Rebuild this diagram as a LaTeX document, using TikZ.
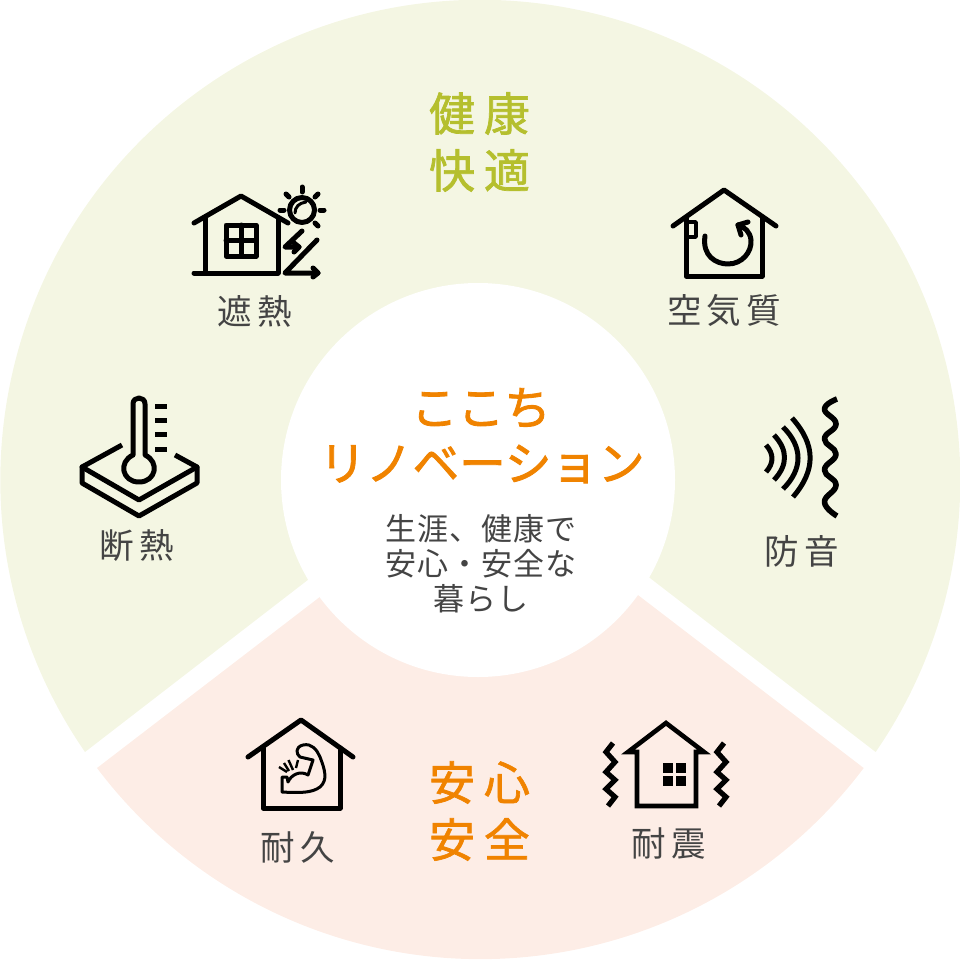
\documentclass[tikz,border=0pt]{standalone}
\usepackage{fontspec}
\setmainfont{Noto Sans CJK JP}
\newfontfamily\headfont[LetterSpace=19.5,FakeBold=1.5]{Noto Sans CJK JP}
\newfontfamily\titlefont[FakeBold=1.8]{Noto Sans CJK JP}
\newfontfamily\labelfont[LetterSpace=15]{Noto Sans CJK JP}
\newfontfamily\leadfont[LetterSpace=3.2]{Noto Sans CJK JP}
\definecolor{sectorgreen}{HTML}{F4F6E3}
\definecolor{sectorpink}{HTML}{FDEDE6}
\definecolor{leafgreen}{HTML}{B5BF2E}
\definecolor{warmorange}{HTML}{F08300}
\definecolor{textgray}{HTML}{444444}
\tikzset{
  iconline/.style={line width=5pt,line join=round,line cap=round},
  thinline/.style={line width=3pt,line join=round,line cap=round},
  headtext/.style={text=#1,align=center,inner sep=0pt,font=\headfont\fontsize{46}{57}\selectfont},
  titletext/.style={text=warmorange,inner sep=0pt,font=\titlefont\fontsize{46.6}{50}\selectfont},
  labeltext/.style={text=textgray,inner sep=0pt,font=\labelfont\fontsize{34.5}{40}\selectfont},
}
\begin{document}
\begin{tikzpicture}[x=1pt,y=-1pt]
  \useasboundingbox (0,0) rectangle (960,960);
  \fill[sectorgreen] (85,752) arc[start angle=145.45,end angle=394.55,radius=480] -- (480,447) -- cycle;
  \fill[sectorpink] (97,768) arc[start angle=143,end angle=37,radius=480] -- (480,474) -- cycle;
  \fill[white] (478,480) circle[radius=197];
  % texts
  \draw
    (479.5,142) node[headtext=leafgreen] (health) {健康\\快適}
    (479.5,811) node[headtext=warmorange] (safety) {安心\\安全}
    (481,408) node[titletext] (title1) {ここち}
    (482,464) node[titletext] (title2) {リノベーション}
    (481,564) node[text=textgray,align=center,inner sep=0pt,font=\leadfont\fontsize{31}{35}\selectfont] (lead) {生涯、健康で\\安心・安全な\\暮らし}
    (255,311) node[labeltext] (shade) {遮熱}
    (724,310) node[labeltext] (air) {空気質}
    (137,546) node[labeltext] (insul) {断熱}
    (802,551) node[labeltext] (sound) {防音}
    (298,847) node[labeltext] (durable) {耐久}
    (669,843) node[labeltext] (quake) {耐震};
  % shade icon
  \begin{scope}[iconline]
    \draw (194,223) -- (241,196) -- (288,223);
    \draw (205,218) -- (205,273);
    \draw (278,218) -- (278,273);
    \draw (194,273) -- (278,273);
    \draw (226,225) rectangle (256,256);
    \draw (241,225) -- (241,256);
    \draw (226,240.5) -- (256,240.5);
    \draw (302,231) -- (285,247) -- (299,247);
    \draw (294,243) -- (299,247) -- (294,252);
    \draw (317,240) -- (285,273) -- (318,273);
    \draw (313,268) -- (318,273) -- (313,277);
    \draw (302,210) circle[radius=12.5];
    \draw (302,187) -- (302,192);
    \draw (320,210) -- (324,210);
    \draw (280,210) -- (284,210);
    \draw (286,194) -- (289,197);
    \draw (318,194) -- (315,197);
    \draw (315,223) -- (318,226);
  \end{scope}
  \draw[thinline] (295,213) .. controls (295,207) and (299,203) .. (306,202);
  % air icon
  \begin{scope}[iconline]
    \draw (673,226) -- (724,190) -- (776,226);
    \draw (686,217) -- (686,276) -- (762,276) -- (762,217);
    \draw[line width=3.6pt] (686,222) -- (696,222) -- (696,237) -- (686,237);
    \draw (705,236) .. controls (702,256) and (716,264) .. (728,264) .. controls (742,264) and (752,252) .. (751,240) .. controls (750,232) and (745,227) .. (738,225);
    \draw (748,222) -- (738,225) -- (741,235);
  \end{scope}
  % insulation icon
  \begin{scope}[iconline]
    \draw (133,455) -- (133,404) .. controls (133,396) and (145,396) .. (145,404) -- (145,455) .. controls (160,462) and (156,482) .. (139,482) .. controls (122,482) and (118,462) .. (133,455);
    \draw[line cap=butt] (155,406) -- (167,406) (155,420) -- (167,420) (155,434) -- (167,434) (155,449) -- (167,449);
    \draw[line cap=butt] (122,445) -- (82,467) -- (139,500) -- (197,467) -- (175,455);
    \draw (82,467) -- (82,483) -- (139,516) -- (197,483) -- (197,467);
  \end{scope}
  % sound icon
  \begin{scope}[iconline,line cap=butt]
    \draw (766,445) .. controls (774,454) and (774,463) .. (766,472);
    \draw (774,435) .. controls (788,450) and (788,465) .. (774,480);
    \draw (783,427) .. controls (803,447) and (803,469) .. (783,489);
    \draw (792,418) .. controls (816,445) and (816,470) .. (793,497);
    \draw[line width=5.6pt] plot[smooth,tension=0.8] coordinates {(837,399) (824.5,409) (836,424) (824.5,439) (836,454) (824.5,470) (836,485) (824.5,502) (837,516)};
  \end{scope}
  % durable icon
  \begin{scope}[iconline]
    \draw (248,757) -- (301,720) -- (353,757);
    \draw (263,748) -- (263,808) -- (340,808) -- (340,748);
  \end{scope}
  \draw[thinline] (282,792) -- (282,777) -- (287,777) -- (288,782) .. controls (291,775) and (300,770) .. (308,775) -- (313,760) -- (300,757) .. controls (296,754) and (295,747) .. (303,745) .. controls (312,743) and (317,750) .. (320,757) .. controls (325,770) and (328,780) .. (320,787) .. controls (312,793) and (300,793) .. (282,792);
  \draw[line width=2.4pt] (279,767) -- (287,772) (284,763) -- (289,771) (288.5,760) -- (293,770) (298,760) -- (296,768);
  % quake icon
  \begin{scope}[line width=4.6pt,line join=miter]
    \draw (637,752) -- (628,752) -- (666,723) -- (704,752) -- (696,752) -- (696,806) -- (637,806) -- cycle;
  \end{scope}
  \begin{scope}[line width=5.2pt,line join=miter]
    \draw (613,743) -- (606,752) -- (615,762) -- (606,772) -- (615,780) -- (606,789) -- (615,797) -- (608,806);
    \draw (724,743) -- (717,752) -- (726,762) -- (717,772) -- (726,780) -- (717,789) -- (726,797) -- (719,806);
  \end{scope}
  \fill (663,763) rectangle (673,773);
  \fill (676,763) rectangle (686,773);
  \fill (663,776) rectangle (673,786);
  \fill (676,776) rectangle (686,786);
\end{tikzpicture}
\end{document}
